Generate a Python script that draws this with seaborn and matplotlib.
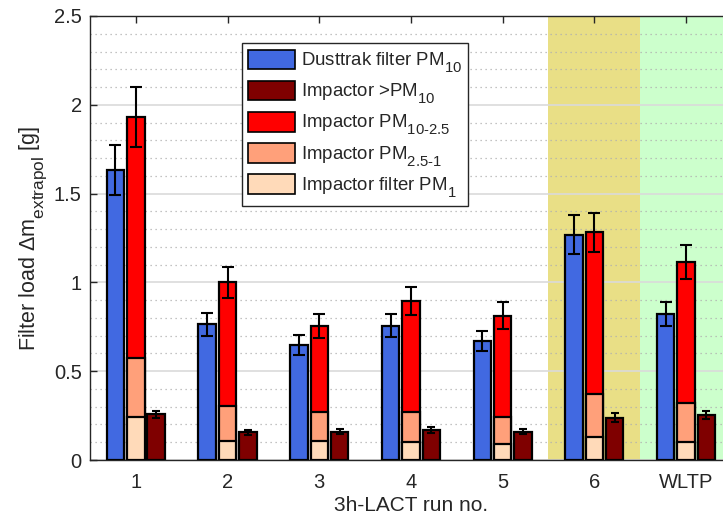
import numpy as np
import pandas as pd
import matplotlib
matplotlib.use("Agg")
import matplotlib.pyplot as plt
import matplotlib._mathtext as mathtext_impl
import seaborn as sns
from matplotlib.patches import Patch
from matplotlib.ticker import MultipleLocator, FormatStrFormatter

# Filter loads per run (g)
runs = ["1", "2", "3", "4", "5", "6", "WLTP"]
dusttrak_pm10 = [1.633, 0.764, 0.649, 0.756, 0.672, 1.269, 0.822]
dusttrak_err = [0.141, 0.065, 0.055, 0.066, 0.056, 0.111, 0.070]
imp_pm1 = [0.240, 0.109, 0.105, 0.103, 0.088, 0.131, 0.101]
imp_pm25_1 = [0.334, 0.195, 0.167, 0.167, 0.152, 0.242, 0.222]
imp_pm10_25 = [1.356, 0.696, 0.481, 0.625, 0.573, 0.909, 0.790]
imp_total_err = [0.169, 0.088, 0.067, 0.077, 0.075, 0.111, 0.095]
imp_gt_pm10 = [0.257, 0.156, 0.159, 0.169, 0.159, 0.238, 0.253]
imp_gt_pm10_err = [0.021, 0.013, 0.014, 0.015, 0.014, 0.025, 0.022]

C_BLUE = "#4169E1"
C_DARK = "#7F0000"
C_RED = "#FF0000"
C_SALMON = "#FFA07A"
C_PEACH = "#FFDAB9"
TXT = "#262626"

sns.set_theme(style="white")
plt.rcParams["font.family"] = ["Liberation Sans", "DejaVu Sans"]
plt.rcParams["mathtext.fontset"] = "custom"
plt.rcParams["mathtext.rm"] = "Liberation Sans"
plt.rcParams["mathtext.it"] = "Liberation Sans"
# larger, lower subscripts
mathtext_impl.SHRINK_FACTOR = 0.8
mathtext_impl.FontConstantsBase.sub1 = 0.75

pos = np.arange(1, len(runs) + 1)
offset = 0.222
bar_w = 0.19

top_mid = np.array(imp_pm1) + np.array(imp_pm25_1)
top_total = top_mid + np.array(imp_pm10_25)

fig = plt.figure(figsize=(7.23, 5.2), dpi=100)
ax = fig.add_axes([90 / 723, 60 / 520, 7 * 91.7 / 723, 444 / 520])

# background bands for run 6 and WLTP
ax.axvspan(5.5, 6.5, color="#E9DF86", zorder=0, lw=0)
ax.axvspan(6.5, 7.5, color="#CCFFCC", zorder=0, lw=0)

bar_kw = dict(edgecolor="black", linewidth=1.6, native_scale=True,
              errorbar=None, ax=ax, width=bar_w, zorder=3, saturation=1)

df_blue = pd.DataFrame({"x": pos - offset, "y": dusttrak_pm10})
df_dark = pd.DataFrame({"x": pos + offset, "y": imp_gt_pm10})
df_tot = pd.DataFrame({"x": pos.astype(float), "y": top_total})
df_mid = pd.DataFrame({"x": pos.astype(float), "y": top_mid})
df_pm1 = pd.DataFrame({"x": pos.astype(float), "y": imp_pm1})

sns.barplot(data=df_blue, x="x", y="y", color=C_BLUE, **bar_kw)
sns.barplot(data=df_tot, x="x", y="y", color=C_RED, **bar_kw)
sns.barplot(data=df_mid, x="x", y="y", color=C_SALMON, **bar_kw)
sns.barplot(data=df_pm1, x="x", y="y", color=C_PEACH, **bar_kw)
sns.barplot(data=df_dark, x="x", y="y", color=C_DARK, **bar_kw)

err_kw = dict(fmt="none", ecolor="black", elinewidth=1.5, capthick=1.5, zorder=4)
ax.errorbar(pos - offset, dusttrak_pm10, yerr=dusttrak_err, capsize=4.5, **err_kw)
ax.errorbar(pos, top_total, yerr=imp_total_err, capsize=4.5, **err_kw)
ax.errorbar(pos + offset, imp_gt_pm10, yerr=imp_gt_pm10_err, capsize=3.2, **err_kw)

ax.set_xlim(0.5, 7.5)
ax.set_ylim(0, 2.5)
ax.set_xticks(pos)
ax.set_xticklabels(runs)
ax.yaxis.set_major_locator(MultipleLocator(0.5))
ax.yaxis.set_minor_locator(MultipleLocator(0.1))
ax.yaxis.set_major_formatter(FormatStrFormatter("%g"))

ax.grid(which="major", axis="y", color="#DADADA", linewidth=1.2, zorder=1)
ax.grid(which="minor", axis="y", color="#B0B0B0", linewidth=0.9,
        linestyle=(0, (1, 3)), zorder=1)
ax.set_axisbelow(True)

for side in ["left", "top", "bottom"]:
    ax.spines[side].set_visible(True)
    ax.spines[side].set_color(TXT)
    ax.spines[side].set_linewidth(1.0)
ax.spines["right"].set_visible(False)

ax.tick_params(axis="both", which="major", direction="in", length=5, width=1,
               labelsize=14.5, colors=TXT, top=True, left=True,
               bottom=True)
ax.tick_params(axis="x", pad=9)
ax.tick_params(axis="y", pad=6)
ax.tick_params(axis="y", which="minor", left=False)

ax.set_xlabel("3h-LACT run no.", fontsize=15, color=TXT, labelpad=3)
ax.set_ylabel(r"Filter load $\Delta\mathregular{m_{extrapol}}$ [g]",
              fontsize=15.5, color=TXT, labelpad=4)

handles = [
    Patch(facecolor=c, edgecolor="black", linewidth=1.2)
    for c in [C_BLUE, C_DARK, C_RED, C_SALMON, C_PEACH]
]
labels = [
    r"Dusttrak filter PM$_{\mathregular{10}}$",
    r"Impactor >PM$_{\mathregular{10}}$",
    r"Impactor PM$_{\mathregular{10\text{-}2.5}}$",
    r"Impactor PM$_{\mathregular{2.5\text{-}1}}$",
    r"Impactor filter PM$_{\mathregular{1}}$",
]
leg = ax.legend(handles, labels, loc="upper left",
                bbox_to_anchor=((242 - 90) / 642, (460 - 43) / 444),
                borderaxespad=0, fontsize=13.4, frameon=True, fancybox=False,
                framealpha=1, edgecolor=TXT, handlelength=2.5,
                handleheight=1.25, labelspacing=0.3, handletextpad=0.3,
                borderpad=0.35)
leg.get_frame().set_linewidth(1.0)
leg.set_zorder(10)

fig.savefig("out.png", dpi=100)
